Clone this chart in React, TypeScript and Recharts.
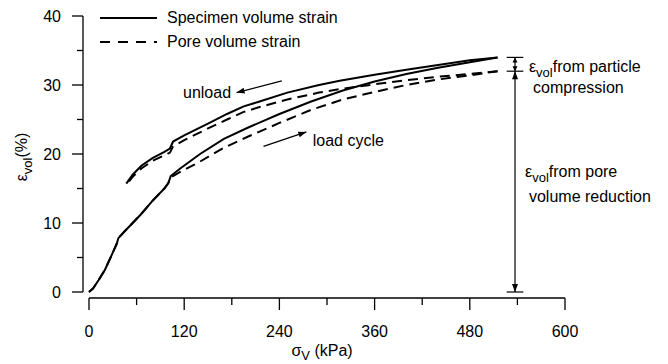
import { LineChart, Line, XAxis, YAxis, ReferenceLine, ReferenceDot, Legend } from "recharts";

const FONT = '"Liberation Sans", Arial, Helvetica, sans-serif';

// stress (kPa) on the loading branch, shared by both load curves
const loadStress = [0, 5, 12, 20, 28, 35, 37, 45, 55, 65, 80, 95, 100, 103, 115, 140, 170, 200, 240, 280, 320, 360, 400, 440, 480, 515];
const specimenLoad = [0, 0.5, 1.7, 3.2, 5.2, 7.0, 7.8, 8.8, 10.0, 11.2, 13.2, 15.0, 15.8, 16.8, 17.9, 20.0, 22.2, 23.8, 25.8, 27.6, 29.2, 30.5, 31.6, 32.5, 33.3, 34.0];
const poreLoad = [0, 0.5, 1.7, 3.2, 5.2, 7.0, 7.8, 8.8, 10.0, 11.2, 13.2, 15.0, 15.8, 16.6, 17.4, 18.9, 20.9, 22.5, 24.5, 26.4, 27.9, 29.0, 30.0, 30.8, 31.4, 32.0];

// stress on the unloading branch (goes back down)
const unloadStress = [515, 480, 440, 400, 360, 316, 290, 250, 215, 195, 174, 150, 134, 120, 106, 102, 95, 80, 66, 55, 47];
const specimenUnload = [34.0, 33.6, 32.9, 32.2, 31.5, 30.6, 30.0, 28.9, 27.6, 26.9, 25.8, 24.4, 23.5, 22.7, 21.8, 20.8, 20.3, 19.4, 18.3, 17.0, 15.7];
const poreUnload = [32.0, 31.6, 31.2, 30.7, 30.1, 29.4, 28.9, 27.9, 26.8, 26.1, 25.0, 23.7, 22.8, 22.0, 21.1, 20.2, 19.8, 19.0, 17.9, 16.7, 15.5];

const xTicks = [0, 60, 120, 180, 240, 300, 360, 420, 480, 540, 600];
const yTicks = [0, 5, 10, 15, 20, 25, 30, 35, 40];

// axes are drawn offset from the data origin
const X_MIN = -7.56;
const Y_MIN = -0.87;

const zip = (xs: number[], ys: number[]) => xs.map((x, i) => ({ x, y: ys[i] }));

const specimenLoadData = zip(loadStress, specimenLoad);
const poreLoadData = zip(loadStress, poreLoad);
const specimenUnloadData = zip(unloadStress, specimenUnload);
const poreUnloadData = zip(unloadStress, poreUnload);

const DASH = "10 6";

function headPoints(xt: number, yt: number, xf: number, yf: number, len: number, w: number) {
  const a = Math.atan2(yt - yf, xt - xf);
  const bx = xt - len * Math.cos(a);
  const by = yt - len * Math.sin(a);
  const px = -Math.sin(a) * w;
  const py = Math.cos(a) * w;
  return `${xt},${yt} ${bx + px},${by + py} ${bx - px},${by - py}`;
}

const arrow = (both: boolean, len = 8, w = 3) => (p: any) => {
  const { x1, y1, x2, y2 } = p;
  return (
    <g>
      <line x1={x1} y1={y1} x2={x2} y2={y2} stroke="#000" strokeWidth={1.2} />
      <polygon points={headPoints(x2, y2, x1, y1, len, w)} fill="#000" />
      {both && <polygon points={headPoints(x1, y1, x2, y2, len, w)} fill="#000" />}
    </g>
  );
};

const YTick = (props: any) => {
  const { x, y, payload } = props;
  const major = payload.value % 10 === 0;
  return (
    <g>
      <line x1={x} x2={x - (major ? 11 : 6)} y1={y} y2={y} stroke="#000" strokeWidth={1.3} />
      {major && (
        <text x={x - 22} y={y + 6} textAnchor="end" fontSize={16} fontFamily={FONT} fill="#000">
          {payload.value}
        </text>
      )}
    </g>
  );
};

const XTick = (props: any) => {
  const { x, y, payload } = props;
  const major = payload.value % 120 === 0;
  return (
    <g>
      <line x1={x} x2={x} y1={y} y2={y + (major ? 12 : 7)} stroke="#000" strokeWidth={1.3} />
      {major && (
        <text x={x} y={y + 39} textAnchor="middle" fontSize={16} fontFamily={FONT} fill="#000">
          {payload.value}
        </text>
      )}
    </g>
  );
};

const XLabel = (props: any) => {
  const { viewBox } = props;
  return (
    <text x={viewBox.x + viewBox.width / 2 - 2} y={viewBox.y + 58} textAnchor="middle" fontSize={16} fontFamily={FONT} fill="#000">
      σ<tspan fontSize={13} dy={4}>V</tspan>
      <tspan dy={-4}> (kPa)</tspan>
    </text>
  );
};

const YLabel = (props: any) => {
  const { viewBox } = props;
  const cx = 27;
  const cy = viewBox.y + viewBox.height / 2;
  return (
    <text x={cx} y={cy} transform={`rotate(-90 ${cx} ${cy})`} textAnchor="middle" fontSize={16} fontFamily={FONT} fill="#000">
      ε<tspan fontSize={13} dy={5}>vol</tspan>
      <tspan dy={-5}>(%)</tspan>
    </text>
  );
};

const note = (lines: { sub?: boolean; text: string }[]) => (p: any) => (
  <text x={p.cx} y={p.cy} fontSize={16} fontFamily={FONT} fill="#000">
    {lines[0].sub ? (
      <>
        ε<tspan fontSize={13} dy={5}>vol</tspan>
        <tspan dy={-5}>{lines[0].text}</tspan>
      </>
    ) : (
      lines[0].text
    )}
  </text>
);

const LegendBox = () => (
  <svg width={260} height={50} style={{ display: "block" }}>
    <line x1={0} x2={57} y1={10} y2={10} stroke="#000" strokeWidth={2} />
    <text x={67} y={15} fontSize={16} fontFamily={FONT} fill="#000">Specimen volume strain</text>
    <line x1={0} x2={57} y1={34} y2={34} stroke="#000" strokeWidth={2.2} strokeDasharray="10 8" />
    <text x={67} y={39} fontSize={16} fontFamily={FONT} fill="#000">Pore volume strain</text>
  </svg>
);

export default function App() {
  return (
    <div style={{ position: "absolute", left: 0, top: 0, background: "#fff" }}>
      <LineChart width={668} height={364} margin={{ top: 16, right: 103, bottom: 0, left: 0 }}>
        <XAxis
          type="number"
          dataKey="x"
          domain={[X_MIN, 600]}
          ticks={xTicks}
          allowDataOverflow
          axisLine={false}
          tickLine={false}
          tickSize={0}
          tickMargin={0}
          tick={<XTick />}
          height={66}
          label={{ content: <XLabel /> }}
        />
        <YAxis
          type="number"
          dataKey="y"
          domain={[Y_MIN, 40]}
          ticks={yTicks}
          allowDataOverflow
          axisLine={false}
          tickLine={false}
          tickSize={0}
          tickMargin={0}
          tick={<YTick />}
          width={83}
          label={{ content: <YLabel /> }}
        />
        <Legend
          layout="vertical"
          align="center"
          verticalAlign="middle"
          content={<LegendBox />}
          wrapperStyle={{ left: 100, top: 8, width: 260, height: 50 }}
        />

        <ReferenceLine segment={[{ x: X_MIN, y: 0 }, { x: X_MIN, y: 40 }]} stroke="#000" strokeWidth={1.3} ifOverflow="visible" />
        <ReferenceLine segment={[{ x: 0, y: Y_MIN }, { x: 600, y: Y_MIN }]} stroke="#000" strokeWidth={1.3} ifOverflow="visible" />

        <Line data={specimenLoadData} dataKey="y" type="linear" stroke="#000" strokeWidth={2} dot={false} isAnimationActive={false} />
        <Line data={poreLoadData} dataKey="y" type="linear" stroke="#000" strokeWidth={2} strokeDasharray={DASH} dot={false} isAnimationActive={false} />
        <Line data={specimenUnloadData} dataKey="y" type="linear" stroke="#000" strokeWidth={2} dot={false} isAnimationActive={false} />
        <Line data={poreUnloadData} dataKey="y" type="linear" stroke="#000" strokeWidth={2} strokeDasharray={DASH} dot={false} isAnimationActive={false} />

        {/* direction arrows */}
        <ReferenceLine segment={[{ x: 243, y: 30.6 }, { x: 186, y: 28.9 }]} shape={arrow(false)} ifOverflow="visible" />
        <ReferenceLine segment={[{ x: 220, y: 21.1 }, { x: 274, y: 23.2 }]} shape={arrow(false)} ifOverflow="visible" />

        {/* strain split markers */}
        <ReferenceLine segment={[{ x: 526.5, y: 34 }, { x: 547.5, y: 34 }]} stroke="#000" strokeWidth={1.2} ifOverflow="visible" />
        <ReferenceLine segment={[{ x: 526.5, y: 32 }, { x: 547.5, y: 32 }]} stroke="#000" strokeWidth={1.2} ifOverflow="visible" />
        <ReferenceLine segment={[{ x: 526.5, y: 0 }, { x: 547.5, y: 0 }]} stroke="#000" strokeWidth={1.2} ifOverflow="visible" />
        <ReferenceLine segment={[{ x: 537, y: 34 }, { x: 537, y: 32 }]} shape={arrow(true, 5, 2.5)} ifOverflow="visible" />
        <ReferenceLine segment={[{ x: 537, y: 32 }, { x: 537, y: 0 }]} shape={arrow(true, 8, 3)} ifOverflow="visible" />

        <ReferenceDot x={118.5} y={28.1} r={0} ifOverflow="visible" shape={note([{ text: "unload" }])} />
        <ReferenceDot x={282} y={21.1} r={0} ifOverflow="visible" shape={note([{ text: "load cycle" }])} />
        <ReferenceDot x={554.6} y={31.9} r={0} ifOverflow="visible" shape={note([{ sub: true, text: "from particle" }])} />
        <ReferenceDot x={559.7} y={28.8} r={0} ifOverflow="visible" shape={note([{ text: "compression" }])} />
        <ReferenceDot x={549.6} y={16.7} r={0} ifOverflow="visible" shape={note([{ sub: true, text: "from pore" }])} />
        <ReferenceDot x={554.6} y={13.0} r={0} ifOverflow="visible" shape={note([{ text: "volume reduction" }])} />
      </LineChart>
    </div>
  );
}
